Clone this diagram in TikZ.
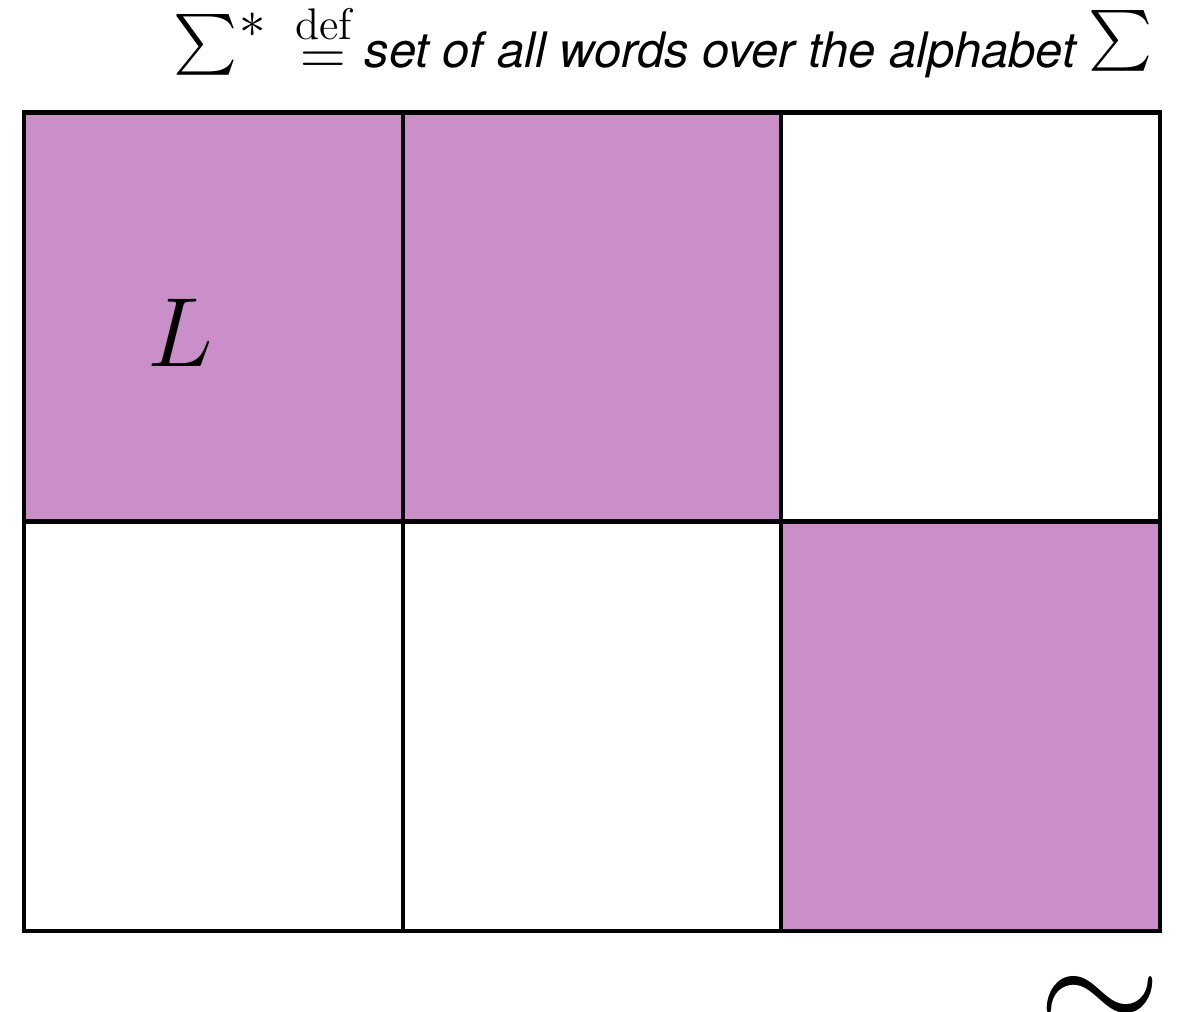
\RequirePackage{fix-cm}
\documentclass[tikz,border=0pt]{standalone}
\usepackage{amsmath}
\usepackage{fontspec}
\newfontfamily\helv{TeX Gyre Heros}
\definecolor{cellpurple}{RGB}{202,143,200}
\usetikzlibrary{positioning}

\begin{document}
\begin{tikzpicture}[
  x=0.01cm, y=-0.01cm,
  cellbox/.style={draw,line width=1.2pt,minimum width=3.785cm,minimum height=4.09cm,
                  inner sep=0pt},
  incell/.style={cellbox,fill=cellpurple},
  outcell/.style={cellbox,fill=white},
  sym/.style={inner sep=0pt,font=\fontsize{17}{20}\selectfont},
]
  \useasboundingbox (0,0) rectangle (1181,1011);

  % top line
  \node[sym] (sigma) at (206,45) {$\textstyle\sum$};
  \node[sym,font=\fontsize{15}{18}\selectfont] (star) at (253,25) {$*$};
  \node[sym,anchor=base,font=\fontsize{18}{21}\selectfont] (defeq) at (323.5,74) {$\stackrel{\text{def}}{=}$};
  \node[inner sep=0pt,anchor=base west,font=\helv\itshape\fontsize{13.9}{16}\selectfont] (words)
    at (364,67) {set of all words over the alphabet};
  \node[sym] (alph) at (1121,41) {$\textstyle\sum$};

  % classes of the partition
  \node[incell] (c11) at (213.5,317) {};
  \node[incell] (c12) at (592,317) {};
  \node[outcell] (c13) at (970.5,317) {};
  \node[outcell] (c21) at (213.5,726) {};
  \node[outcell] (c22) at (592,726) {};
  \node[incell] (c23) at (970.5,726) {};

  % labels
  \node[inner sep=0pt,anchor=base,font=\fontsize{28}{32}\selectfont] (lang) at (180,366) {$L$};
  \node[inner sep=0pt,anchor=base,font=\fontsize{45}{50}\selectfont] (equiv) at (1100,1034) {$\sim$};
\end{tikzpicture}
\end{document}
